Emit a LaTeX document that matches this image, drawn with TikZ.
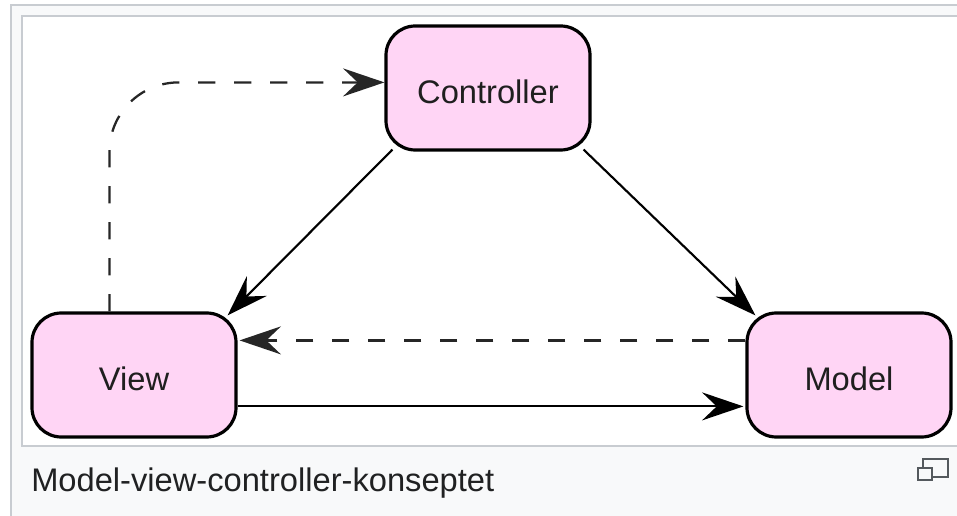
\documentclass[tikz,border=0pt]{standalone}
\usepackage{fontspec}
\setmainfont{Liberation Sans}
\usetikzlibrary{arrows.meta,calc}
\definecolor{framegrey}{HTML}{F8F9FA}
\definecolor{frameline}{HTML}{C8CCD1}
\definecolor{boxpink}{HTML}{FFD5F5}
\definecolor{captxt}{HTML}{202122}
\definecolor{icongrey}{HTML}{54595D}
\tikzset{
  mvcbox/.style={draw=black, fill=boxpink, line width=2.4pt, rounded corners=22pt,
    minimum width=153pt, minimum height=93pt, inner sep=0pt,
    font=\fontsize{24.5pt}{28pt}\selectfont, text=black!88,
    text height=22.8pt, text depth=0pt},
  tipstyle/.style={-{Stealth[length=31pt,width=21pt,inset=11pt]}},
  solidcon/.style={tipstyle, line width=1.6pt, black},
  dashcon/.style={tipstyle, line width=1.7pt, black!85, dash pattern=on 13pt off 14pt},
}
\begin{document}
\begin{tikzpicture}[x=0.75pt,y=-0.75pt]
\useasboundingbox (0,0) rectangle (957,516);
% frames
\draw[frameline, fill=framegrey, line width=1.5pt] (11,5) rectangle (975,530);
\draw[frameline, fill=white, line width=1.2pt] (22,16) rectangle (970,446);
% nodes
\node[mvcbox] (ctrl) at (488,88) {Controller};
\node[mvcbox] (view) at (134,375) {View};
\node[mvcbox] (model) at (849,375) {Model};
% connectors
\draw[solidcon] ($(ctrl.south west)+(8,-2)$) -- ($(view.north east)+(-10,4)$);
\draw[solidcon] ($(ctrl.south east)+(-8,-2)$) -- ($(model.north west)+(10,4)$);
\draw[dashcon] ($(model.north west)+(0,29)$) -- ($(view.north east)+(2,29)$);
\draw[solidcon] ($(view.north east)+(0,95)$) -- ($(model.north west)+(-2,95)$);
\coordinate (bend) at ($(view.north west)+(79,-229)$);
\draw[dashcon, rounded corners=52pt] ($(view.north west)+(79,0)$) -- (bend) -- ($(ctrl.north west)+(0,58)$);
% caption
\node[anchor=base west, inner sep=0pt, text=captxt, font=\fontsize{24.5pt}{28pt}\selectfont] (cap) at (31,492) {Model-view-controller-konseptet};
% icon
\draw[icongrey, line width=1.1pt, fill=framegrey] (923,459) rectangle (948,477);
\draw[icongrey, line width=1.1pt, fill=framegrey] (918,468) rectangle (932,480);
\end{tikzpicture}
\end{document}
